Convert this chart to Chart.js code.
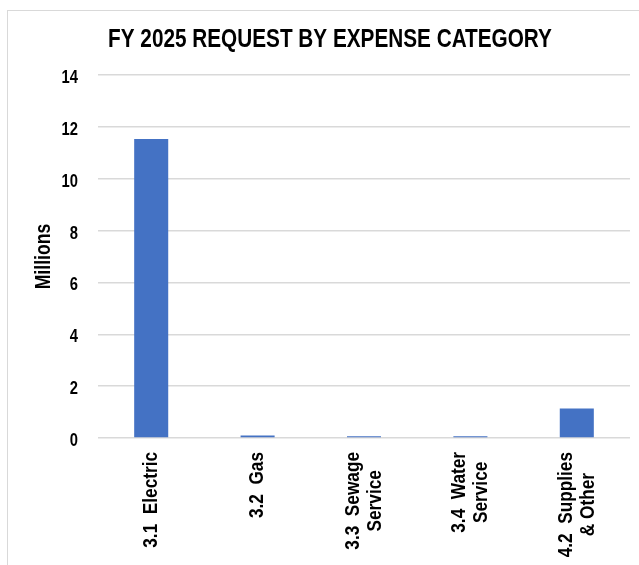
<!DOCTYPE html>
<html>
<head>
<meta charset="utf-8">
<script src="https://cdn.jsdelivr.net/npm/chart.js@4.4.1/dist/chart.umd.min.js"></script>
<style>
  html, body { margin: 0; padding: 0; background: #fff; }
  #wrap { position: relative; width: 639px; height: 565px; overflow: hidden; }
  #frame { position: absolute; left: 7px; top: 10px; width: 700px; height: 600px; border: 1px solid #d9d9d9; box-sizing: border-box; }
  #chart { position: absolute; left: 0; top: 0; }
</style>
</head>
<body>
<div id="wrap">
  <div id="frame"></div>
  <canvas id="chart" width="639" height="565"></canvas>
</div>
<script>
// data (millions)
const categories = [
    ['3.1  Electric'],
    ['3.2  Gas'],
    ['3.3  Sewage', 'Service'],
    ['3.4  Water', 'Service'],
    ['4.2  Supplies', '& Other']
];
const requestValues = [11.53, 0.10, 0.065, 0.065, 1.135];
const yTicks = [0, 2, 4, 6, 8, 10, 12, 14];
const chartTitle = 'FY 2025 REQUEST BY EXPENSE CATEGORY';
const yTitle = 'Millions';

// no Arial Narrow here, so squeeze Liberation Sans to its width
const FONT = "'Liberation Sans', Arial, sans-serif";
const NARROW = 0.82;

const textPlugin = {
    id: 'narrowText',
    afterDraw(chart) {
        const ctx = chart.ctx;
        const area = chart.chartArea;
        const xScale = chart.scales.x;
        const yScale = chart.scales.y;
        ctx.save();
        ctx.fillStyle = '#000';

        // title
        ctx.font = 'bold 25.3px ' + FONT;
        ctx.textAlign = 'center';
        ctx.textBaseline = 'alphabetic';
        ctx.save();
        ctx.translate(330, 47);
        ctx.scale(NARROW, 1);
        ctx.fillText(chartTitle, 0, 0);
        ctx.restore();

        // y tick labels
        ctx.font = 'bold 18px ' + FONT;
        ctx.textAlign = 'right';
        yTicks.forEach(function(v) {
            const y = yScale.getPixelForValue(v);
            ctx.save();
            ctx.translate(area.left - 20, y + 8);
            ctx.scale(NARROW, 1);
            ctx.fillText(String(v), 0, 0);
            ctx.restore();
        });

        // y axis title
        ctx.font = 'bold 21.5px ' + FONT;
        ctx.textAlign = 'center';
        ctx.textBaseline = 'middle';
        ctx.save();
        ctx.translate(44, (area.top + area.bottom) / 2);
        ctx.rotate(-Math.PI / 2);
        ctx.scale(NARROW, 1);
        ctx.fillText(yTitle, 0, 0);
        ctx.restore();

        // x labels, rotated, lines centred on each other
        ctx.font = 'bold 21px ' + FONT;
        const top = area.bottom + 14;
        const lineH = 22;
        categories.forEach(function(lines, i) {
            const x = xScale.getPixelForTick(i);
            let w = 0;
            lines.forEach(function(l) { w = Math.max(w, ctx.measureText(l).width); });
            ctx.save();
            ctx.translate(x, top);
            ctx.rotate(-Math.PI / 2);
            ctx.scale(NARROW, 1);
            lines.forEach(function(l, j) {
                ctx.fillText(l, -w / 2, (j - (lines.length - 1) / 2) * lineH);
            });
            ctx.restore();
        });
        ctx.restore();
    }
};

const data = {
    labels: categories.map(function(l) { return l.join(' '); }),
    datasets: [{
        label: 'FY 2025 Request',
        data: requestValues,
        backgroundColor: '#4472C4',
        borderWidth: 0,
        barPercentage: 0.32,
        categoryPercentage: 1
    }]
};

const options = {
    responsive: false,
    animation: false,
    layout: { padding: { left: 0, right: 9, top: 75, bottom: 0 } },
    plugins: {
        legend: { display: false },
        tooltip: { enabled: false },
        title: { display: false }
    },
    scales: {
        x: {
            grid: { display: false },
            border: { display: false },
            ticks: { display: false },
            afterFit: function(scale) { scale.height = 127; }
        },
        y: {
            min: 0,
            max: 14,
            afterBuildTicks: function(scale) {
                scale.ticks = yTicks.map(function(v) { return { value: v }; });
            },
            grid: { color: '#d9d9d9', lineWidth: 1.5, drawTicks: false },
            border: { display: false },
            ticks: { display: false },
            afterFit: function(scale) { scale.width = 98; }
        }
    }
};

new Chart(document.getElementById('chart'), {
    type: 'bar',
    data: data,
    options: options,
    plugins: [textPlugin]
});
</script>
</body>
</html>
